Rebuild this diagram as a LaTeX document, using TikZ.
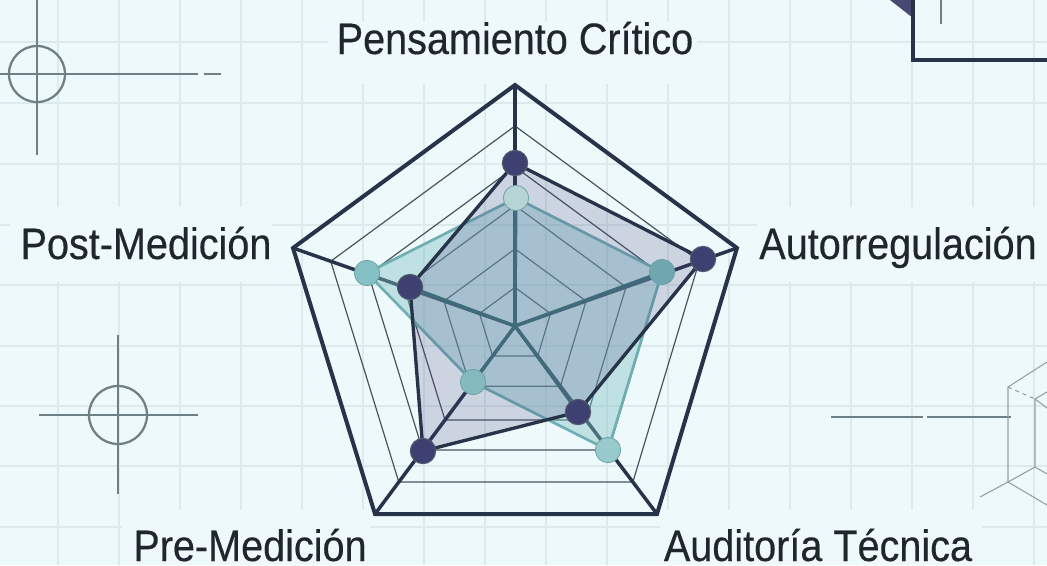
\documentclass[tikz,border=0pt]{standalone}
\usepackage{fontspec}
\setmainfont[FakeStretch=0.90,FakeBold=0.35]{Liberation Sans}
\usetikzlibrary{calc}
\definecolor{bgc}{HTML}{EEF9FB}
\definecolor{gridc}{HTML}{DCEAED}
\definecolor{inkc}{HTML}{263349}
\definecolor{thinc}{HTML}{46555F}
\definecolor{sketchc}{HTML}{6F7F86}
\definecolor{purc}{HTML}{45407F}
\definecolor{dotc}{HTML}{3D4070}
\definecolor{tealc}{HTML}{7FC0C4}
\definecolor{tealdot}{HTML}{85C0C4}
\definecolor{tealline}{HTML}{6FAFB3}
\definecolor{axisin}{HTML}{3F6B7A}
\definecolor{txtc}{HTML}{20262E}
\tikzset{
  gridline/.style={draw=gridc,line width=1.3pt},
  ringline/.style={draw=thinc,line width=0.9pt},
  outerline/.style={draw=inkc,line width=3pt,line join=miter},
  axisline/.style={draw=inkc,line width=2.6pt},
  innerline/.style={draw=axisin,line width=2.3pt},
  sketchline/.style={draw=sketchc,line width=1.7pt},
  wireline/.style={draw=sketchc!75,line width=0.8pt},
  halo/.style={fill=bgc},
  dot1/.style={circle,fill=dotc,draw=inkc!80,line width=.8pt,minimum size=19pt,inner sep=0pt},
  dot2/.style={circle,draw=tealc!85!black,line width=.6pt,minimum size=19pt,inner sep=0pt},
  lab/.style={font=\fontsize{33pt}{38pt}\selectfont,text=txtc,inner sep=0pt,anchor=base}
}
\begin{document}
\begin{tikzpicture}[x=0.75pt,y=-0.75pt]
\useasboundingbox (0,0) rectangle (1047,565);
\fill[bgc] (0,0) rectangle (1047,565);
\clip (0,0) rectangle (1047,565);
% grid
\foreach \x in {58,119,180,241,302,363,424,485,546,607,668,729,790,851,912,973,1034}
  \draw[gridline] (\x,0) -- (\x,565);
\foreach \y in {42,103,164,225,285,346,406,466,527}
  \draw[gridline] (0,\y) -- (1047,\y);
% clear space round the labels
\fill[halo] (328,22) rectangle (697,84);
\fill[halo] (10,207) rectangle (272,282);
\fill[halo] (757,207) rectangle (1047,282);
\fill[halo] (122,510) rectangle (370,565);
\fill[halo] (660,510) rectangle (982,565);
% sketch marks
\draw[sketchline] (37,0) -- (37,155);
\draw[sketchline] (0,74) -- (198,74);
\draw[sketchline] (204,74) -- (221,74);
\draw[sketchline] (37,74) circle[radius=28];
\draw[sketchline] (118,335) -- (118,494);
\draw[sketchline] (39,415) -- (198,415);
\draw[sketchline] (118,415) circle[radius=29];
\draw[sketchline] (831,417) -- (923,417);
\draw[sketchline] (927,417) -- (1011,417);
\draw[wireline] (1047,362) -- (1008,387) -- (1008,482) -- (980,497);
\draw[wireline] (1008,482) -- (1047,505);
\draw[wireline] (1035,399) -- (1035,467) -- (1008,482);
\draw[wireline,dashed] (1008,387) -- (1035,399);
\draw[wireline] (1035,399) -- (1047,392);
\draw[wireline] (1035,399) -- (1047,408);
\draw[wireline] (1035,467) -- (1047,474);
% corner
\fill[dotc!85!gray] (890,0) -- (913,18) -- (913,0) -- cycle;
\draw[outerline] (913,-5) -- (913,60) -- (1052,60);
\draw[sketchline] (941,0) -- (941,24);
% radar
\coordinate (C) at (515,326);
\coordinate (A) at (515,85);
\coordinate (B) at (737,248);
\coordinate (D) at (657,514);
\coordinate (E) at (375,514);
\coordinate (F) at (293,248);
\foreach \r in {0.16,0.32,0.5,0.66,0.83}
  \draw[ringline] ($(C)!\r!(A)$) -- ($(C)!\r!(B)$) -- ($(C)!\r!(D)$) -- ($(C)!\r!(E)$) -- ($(C)!\r!(F)$) -- cycle;
\foreach \p in {A,B,D,E,F} \draw[axisline] (C) -- (\p);
\draw[outerline] (A) -- (B) -- (D) -- (E) -- (F) -- cycle;
% series
\coordinate (p1) at (515,163);
\coordinate (p2) at (703,259);
\coordinate (p3) at (578,412);
\coordinate (p4) at (423,451);
\coordinate (p5) at (410,287);
\coordinate (q1) at (516,198);
\coordinate (q2) at (662,272);
\coordinate (q3) at (608,450);
\coordinate (q4) at (473,382);
\coordinate (q5) at (367,273);
\fill[tealc,fill opacity=.42] (q1) -- (q2) -- (q3) -- (q4) -- (q5) -- cycle;
\draw[tealline,line width=2pt,line join=round] (q1) -- (q2) -- (q3) -- (q4) -- (q5) -- cycle;
\fill[purc,fill opacity=.20] (p1) -- (p2) -- (p3) -- (p4) -- (p5) -- cycle;
\draw[innerline] (C) -- (q1);
\draw[innerline] (C) -- (q2);
\draw[innerline] (C) -- (p3);
\draw[innerline] (C) -- (q4);
\draw[innerline] (C) -- (p5);
\draw[inkc,line width=2.5pt,line join=round] (p1) -- (p2) -- (p3) -- (p4) -- (p5) -- cycle;
\node[dot2,fill=tealdot!55!white!90!gray] at (q1) {};
\node[dot2,fill=tealdot!70!axisin] at (q2) {};
\node[dot2,fill=tealdot!85!white] at (q3) {};
\node[dot2,fill=tealdot!90!gray] at (q4) {};
\node[dot2,fill=tealdot] at (q5) {};
\foreach \p in {p1,p2,p3,p4,p5} \node[dot1] at (\p) {};
% labels
\node[lab] (l1) at (515,54) {Pensamiento Crítico};
\node[lab] (l2) at (898,259) {Autorregulación};
\node[lab] (l3) at (818,561) {Auditoría Técnica};
\node[lab] (l4) at (250,561) {Pre-Medición};
\node[lab] (l5) at (146,259) {Post-Medición};
\end{tikzpicture}
\end{document}
